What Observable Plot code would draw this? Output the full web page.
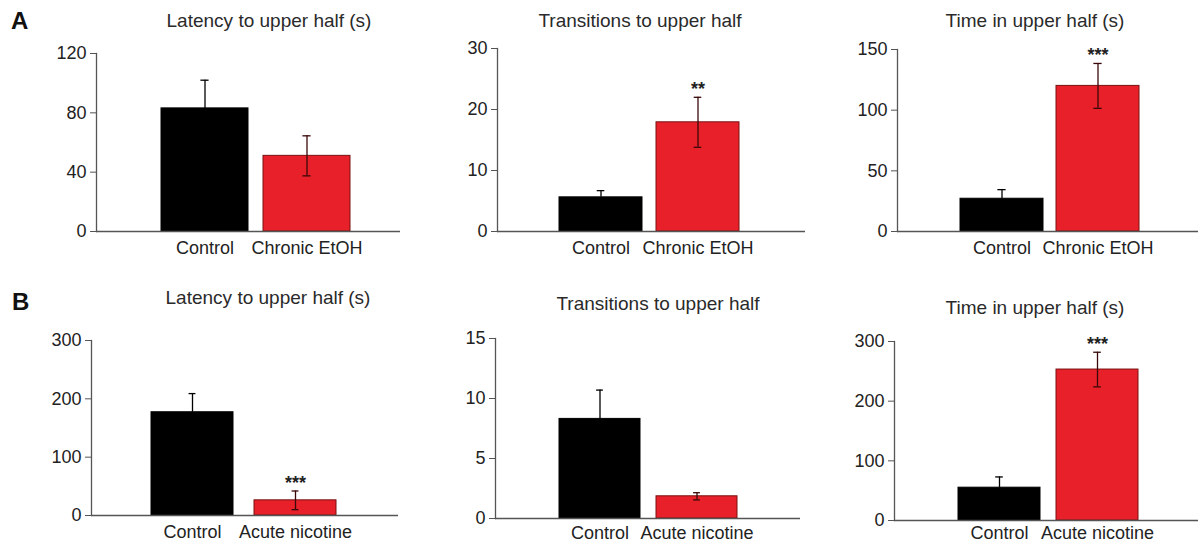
<!DOCTYPE html>
<html>
<head>
<meta charset="utf-8">
<script src="https://cdn.jsdelivr.net/npm/d3@7"></script>
<script src="https://cdn.jsdelivr.net/npm/@observablehq/plot@0.6"></script>
<style>
  body { margin: 0; background: #fff; }
  #root { position: relative; width: 1202px; height: 545px; overflow: hidden;
          font-family: "Liberation Sans", Arial, Helvetica, sans-serif; color: #222; }
  .title { position: absolute; font-size: 19px; line-height: 1; white-space: nowrap;
           transform: translate(-50%, -50%); color: #2a2a2a; }
  .letter { position: absolute; font-size: 24px; line-height: 1; font-weight: bold; color: #111; }
  .panel { position: absolute; }
</style>
</head>
<body>
<div id="root"></div>
<script>
// ---------- data ----------
const groupsA = ["Control", "Chronic EtOH"];
const groupsB = ["Control", "Acute nicotine"];

const titleLatency = "Latency to upper half (s)";
const titleTransitions = "Transitions to upper half";
const titleTime = "Time in upper half (s)";

// Row A (chronic EtOH)
const latencyA_mean = [83, 51];
const latencyA_sem = [19, 13.5];
const latencyA_stars = ["", ""];
const latencyA_ticks = [0, 40, 80, 120];

const transitionsA_mean = [5.6, 17.9];
const transitionsA_sem = [1.1, 4.1];
const transitionsA_stars = ["", "**"];
const transitionsA_ticks = [0, 10, 20, 30];

const timeA_mean = [27, 120];
const timeA_sem = [7.5, 18.5];
const timeA_stars = ["", "***"];
const timeA_ticks = [0, 50, 100, 150];

// Row B (acute nicotine)
const latencyB_mean = [177, 26];
const latencyB_sem = [32, 16];
const latencyB_stars = ["", "***"];
const latencyB_ticks = [0, 100, 200, 300];

const transitionsB_mean = [8.3, 1.85];
const transitionsB_sem = [2.4, 0.3];
const transitionsB_stars = ["", ""];
const transitionsB_ticks = [0, 5, 10, 15];

const timeB_mean = [55, 253];
const timeB_sem = [18, 29];
const timeB_stars = ["", "***"];
const timeB_ticks = [0, 100, 200, 300];

// ---------- layout (pixel geometry of each panel) ----------
const layouts = [
  {left: 0,   top: 0,   w: 400, h: 270, axisX: 96,  topY: 53,  zeroY: 231, rightX: 400,  barL: 161, barR: 350,  pi: 0.15,  lp: 10, tx: 269,  ty: 20},
  {left: 400, top: 0,   w: 405, h: 270, axisX: 497, topY: 48,  zeroY: 231, rightX: 805,  barL: 558, barR: 739,  pi: 0.145, lp: 10, tx: 640,  ty: 20},
  {left: 800, top: 0,   w: 402, h: 270, axisX: 897, topY: 49,  zeroY: 231, rightX: 1198, barL: 960, barR: 1139, pi: 0.14,  lp: 10, tx: 1035, ty: 20},
  {left: 0,   top: 270, w: 400, h: 275, axisX: 91,  topY: 340, zeroY: 515, rightX: 398,  barL: 150, barR: 337,  pi: 0.2,   lp: 10, tx: 268,  ty: 297},
  {left: 400, top: 270, w: 400, h: 275, axisX: 495, topY: 338, zeroY: 518, rightX: 800,  barL: 558, barR: 738,  pi: 0.16,  lp: 8,  tx: 658,  ty: 303},
  {left: 800, top: 270, w: 402, h: 275, axisX: 894, topY: 341, zeroY: 520, rightX: 1198, barL: 957, barR: 1138, pi: 0.165, lp: 6,  tx: 1035, ty: 307}
];

const panels = [
  {groups: groupsA, title: titleLatency,     mean: latencyA_mean,     sem: latencyA_sem,     stars: latencyA_stars,     ticks: latencyA_ticks},
  {groups: groupsA, title: titleTransitions, mean: transitionsA_mean, sem: transitionsA_sem, stars: transitionsA_stars, ticks: transitionsA_ticks},
  {groups: groupsA, title: titleTime,        mean: timeA_mean,        sem: timeA_sem,        stars: timeA_stars,        ticks: timeA_ticks},
  {groups: groupsB, title: titleLatency,     mean: latencyB_mean,     sem: latencyB_sem,     stars: latencyB_stars,     ticks: latencyB_ticks},
  {groups: groupsB, title: titleTransitions, mean: transitionsB_mean, sem: transitionsB_sem, stars: transitionsB_stars, ticks: transitionsB_ticks},
  {groups: groupsB, title: titleTime,        mean: timeB_mean,        sem: timeB_sem,        stars: timeB_stars,        ticks: timeB_ticks}
];

const ctrlFill = "#000", treatFill = "#e8202a", treatStroke = "#7a1010";
const ctrlErr = "#000", treatErr = "#3a0808";
const axisGray = "#555";
const FONT = '"Liberation Sans", Arial, Helvetica, sans-serif';

const root = document.getElementById("root");

panels.forEach((p, k) => {
  const c = layouts[k];
  const data = p.groups.map((g, i) => ({
    g, m: p.mean[i], lo: p.mean[i] - p.sem[i], hi: p.mean[i] + p.sem[i], s: p.stars[i], ctrl: i === 0
  }));
  const ctrl = data.filter(d => d.ctrl);
  const treat = data.filter(d => !d.ctrl);
  const bw = ((c.barR - c.barL) / (2 - c.pi)) * (1 - c.pi);
  const capInset = (bw - 8) / 2;

  const chart = Plot.plot({
    width: c.w, height: c.h,
    marginLeft: c.axisX - c.left,
    marginRight: c.left + c.w - c.rightX,
    marginTop: c.topY - c.top,
    marginBottom: c.top + c.h - c.zeroY,
    style: {fontFamily: FONT, background: "transparent", overflow: "visible", color: "#222"},
    x: {domain: p.groups, range: [c.barL - c.left, c.barR - c.left], paddingInner: c.pi, paddingOuter: 0, axis: null},
    y: {domain: [0, p.ticks[p.ticks.length - 1]], axis: null},
    marks: [
      Plot.barY(ctrl, {x: "g", y: "m", fill: ctrlFill, stroke: ctrlFill, strokeWidth: 1}),
      Plot.barY(treat, {x: "g", y: "m", fill: treatFill, stroke: treatStroke, strokeWidth: 1}),
      // control: only the upward whisker is visible
      Plot.ruleX(ctrl, {x: "g", y1: "m", y2: "hi", stroke: ctrlErr, strokeWidth: 1.3}),
      Plot.tickY(ctrl, {x: "g", y: "hi", inset: capInset, stroke: ctrlErr, strokeWidth: 1.3}),
      // treatment: full whisker with caps
      Plot.ruleX(treat, {x: "g", y1: "lo", y2: "hi", stroke: treatErr, strokeWidth: 1.3}),
      Plot.tickY(treat, {x: "g", y: "hi", inset: capInset, stroke: treatErr, strokeWidth: 1.3}),
      Plot.tickY(treat, {x: "g", y: "lo", inset: capInset, stroke: treatErr, strokeWidth: 1.3}),
      Plot.frame({anchor: "left", stroke: axisGray, strokeWidth: 1.3}),
      Plot.ruleY([0], {stroke: axisGray, strokeWidth: 1.3}),
      Plot.axisY({ticks: p.ticks, tickSize: 6, tickPadding: 4, fontSize: 18, stroke: axisGray, fill: "#222", tickFormat: d => String(d), label: null}),
      Plot.axisX({tickSize: 0, tickPadding: c.lp, fontSize: 18, fill: "#222", label: null}),
      Plot.text(data, {x: "g", y: "hi", text: "s", dy: -8, fontSize: 18, fontWeight: "bold", fill: "#222", lineAnchor: "middle"})
    ]
  });
  chart.classList.add("panel");
  chart.style.left = c.left + "px";
  chart.style.top = c.top + "px";
  root.appendChild(chart);

  const t = document.createElement("div");
  t.className = "title";
  t.textContent = p.title;
  t.style.left = c.tx + "px";
  t.style.top = c.ty + "px";
  root.appendChild(t);
});

const letters = [{txt: "A", x: 11, y: 9}, {txt: "B", x: 12, y: 290}];
letters.forEach(l => {
  const d = document.createElement("div");
  d.className = "letter";
  d.textContent = l.txt;
  d.style.left = l.x + "px";
  d.style.top = l.y + "px";
  root.appendChild(d);
});
</script>
</body>
</html>
